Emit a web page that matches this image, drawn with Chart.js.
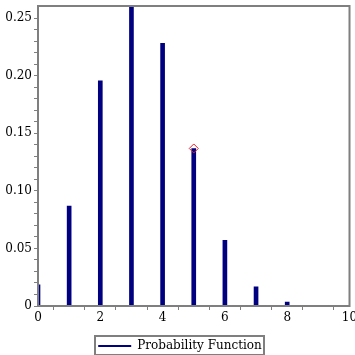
<!DOCTYPE html>
<html>
<head>
<meta charset="utf-8">
<script src="https://cdn.jsdelivr.net/npm/chart.js@4"></script>
<style>
  html, body { margin: 0; padding: 0; background: #fff; }
  #wrap { width: 355px; height: 355px; }
</style>
</head>
<body>
<div id="wrap"><canvas id="myChart" width="355" height="355"></canvas></div>
<script>
// values
var xs = [0, 1, 2, 3, 4, 5, 6, 7, 8, 9];
var probs = [0.0184, 0.0868, 0.1956, 0.2605, 0.228, 0.1368, 0.057, 0.0167, 0.0035, 0.0004];
var markX = 5;
var markY = 0.1368;
var yTickLabels = [0, 0.05, 0.10, 0.15, 0.20, 0.25];
var xTickLabels = [0, 2, 4, 6, 8, 10];

var gray = '#7f7f7f';
var navy = '#000080';
var font = { family: 'DejaVu Serif', size: 12 };

// box around the plot and around the legend
var frames = {
  id: 'frames',
  afterUpdate: function(chart) {
    // nudge the legend a little to the right
    var lg = chart.legend;
    lg.left += 4; lg.right += 4;
    lg.legendHitBoxes.forEach(function(hb) { hb.left += 4; });
  },
  afterDraw: function(chart) {
    var ctx = chart.ctx, a = chart.chartArea;
    ctx.save();
    ctx.strokeStyle = gray;
    ctx.lineWidth = 2;
    ctx.strokeRect(a.left, a.top, a.right - a.left, a.bottom - a.top);
    var hb = chart.legend.legendHitBoxes[0];
    if (hb) {
      var t = Math.round(hb.top) - 4, l = Math.round(hb.left) - 3;
      ctx.strokeRect(l, t, Math.round(hb.width) + 5, Math.round(hb.height) + 7);
    }
    ctx.restore();
  }
};

var ctx = document.getElementById('myChart').getContext('2d');
new Chart(ctx, {
  type: 'bar',
  data: {
    datasets: [{
      label: 'Probability Function',
      data: xs.map(function(x, i) { return { x: x, y: probs[i] }; }),
      backgroundColor: navy,
      borderWidth: 0,
      barThickness: 4,
      order: 2
    }, {
      type: 'scatter',
      label: 'mark',
      data: [{ x: markX, y: markY }],
      pointStyle: 'rectRot',
      pointRadius: 4.5,
      borderColor: '#e0202a',
      borderWidth: 1,
      backgroundColor: 'rgba(255,255,255,0)',
      order: 1
    }]
  },
  options: {
    responsive: false,
    animation: false,
    layout: { padding: { top: 6, right: 3, left: 0, bottom: -7 } },
    plugins: {
      tooltip: { enabled: false },
      legend: {
        position: 'bottom',
        labels: {
          font: font,
          color: '#000',
          usePointStyle: true,
          pointStyleWidth: 33,
          padding: 5,
          generateLabels: function(chart) {
            return [{
              text: 'Probability Function',
              datasetIndex: 0,
              pointStyle: 'line',
              strokeStyle: navy,
              fillStyle: navy,
              lineWidth: 2,
              fontColor: '#000'
            }];
          }
        }
      }
    },
    scales: {
      x: {
        type: 'linear',
        min: 0,
        max: 10,
        offset: false,
        grid: { display: true, drawOnChartArea: false, drawTicks: true, tickLength: 4, color: gray, tickWidth: 1 },
        border: { display: false },
        ticks: {
          stepSize: 1,
          padding: 1,
          font: font,
          color: '#000',
          maxRotation: 0,
          autoSkip: false,
          callback: function(v) { return xTickLabels.indexOf(v) >= 0 ? String(v) : ''; }
        },
        afterFit: function(s) { s.paddingRight = 0; s.height = 29; }
      },
      y: {
        min: 0,
        max: 0.2605,
        grid: {
          display: true, drawOnChartArea: false, drawTicks: true, tickLength: 4, tickWidth: 1,
          color: function(c) { return c.tick && c.tick.value > 0.2601 ? 'rgba(0,0,0,0)' : gray; }
        },
        border: { display: false },
        ticks: {
          stepSize: 0.01,
          padding: 2,
          font: font,
          color: '#000',
          autoSkip: false,
          callback: function(v) {
            for (var i = 0; i < yTickLabels.length; i++) {
              if (Math.abs(v - yTickLabels[i]) < 1e-6) return v === 0 ? '0' : v.toFixed(2);
            }
            return '';
          }
        },
        afterFit: function(s) { s.width = 38; s.paddingTop = 0; }
      }
    }
  },
  plugins: [frames]
});
</script>
</body>
</html>
